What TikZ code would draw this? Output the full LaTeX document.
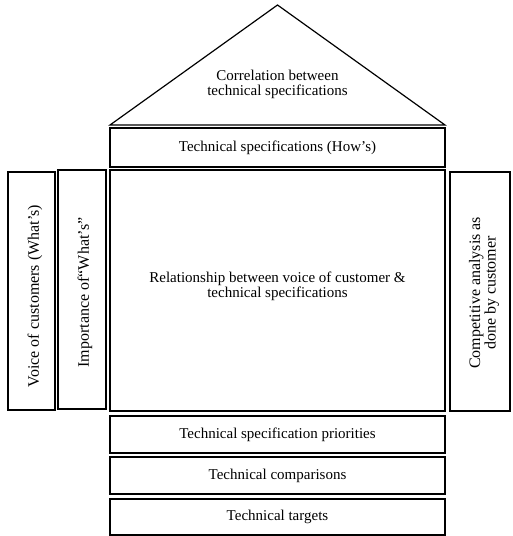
\documentclass[tikz,border=0pt]{standalone}
\usepackage{fontspec}
\setmainfont{Liberation Serif}

\begin{document}
\begin{tikzpicture}[x=1pt, y=-1pt,
    box/.style={draw, line width=1.2pt, inner sep=0pt, align=center, font=\fontsize{15}{15}\selectfont},
    wall/.style={box, rotate=90, font=\fontsize{16}{14}\selectfont},
    label/.style={align=center, font=\fontsize{15}{15}\selectfont}]
        \useasboundingbox (0,0) rectangle (512,536);
        % roof
        \coordinate (roofL) at (110,125);
        \coordinate (roofT) at (277.5,5);
        \coordinate (roofR) at (445,125);
        \draw [line width=1.2pt, line join=miter] (roofL) -- (roofT) -- (roofR) -- cycle;
        \node [label] (corr) at (277.5,84) {Correlation between\\technical specifications};
        % middle column
        \node [box, minimum width=335, minimum height=39] (hows) at (277.5,147.5) {Technical specifications (How’s)};
        \node [box, minimum width=335, minimum height=241] (rel) at (277.5,290.5) {};
        \node [label] (reltext) at (277.5,286) {Relationship between voice of customer \&\\technical specifications};
        \node [box, minimum width=335, minimum height=37] (prio) at (277.5,434.5) {Technical specification priorities};
        \node [box, minimum width=335, minimum height=37] (comp) at (277.5,475.5) {Technical comparisons};
        \node [box, minimum width=335, minimum height=36] (targ) at (277.5,517) {Technical targets};
        % side walls
        \node [wall, minimum width=238, minimum height=47] (voice) at (31.5,291) {};
        \node [rotate=90, font=\fontsize{16}{14}\selectfont] (voicetext) at (35,296) {Voice of customers (What’s)};
        \node [wall, minimum width=239, minimum height=48] (imp) at (82,289.5) {};
        \node [rotate=90, font=\fontsize{16}{14}\selectfont] (imptext) at (85,292.5) {Importance of“What’s”};
        \node [wall, minimum width=239, minimum height=60] (compet) at (480,291.5) {};
        \node [rotate=90, align=center, font=\fontsize{16}{14}\selectfont] (compettext) at (484,293) {Competitive analysis as\\done by customer};
    \end{tikzpicture}
\end{document}
